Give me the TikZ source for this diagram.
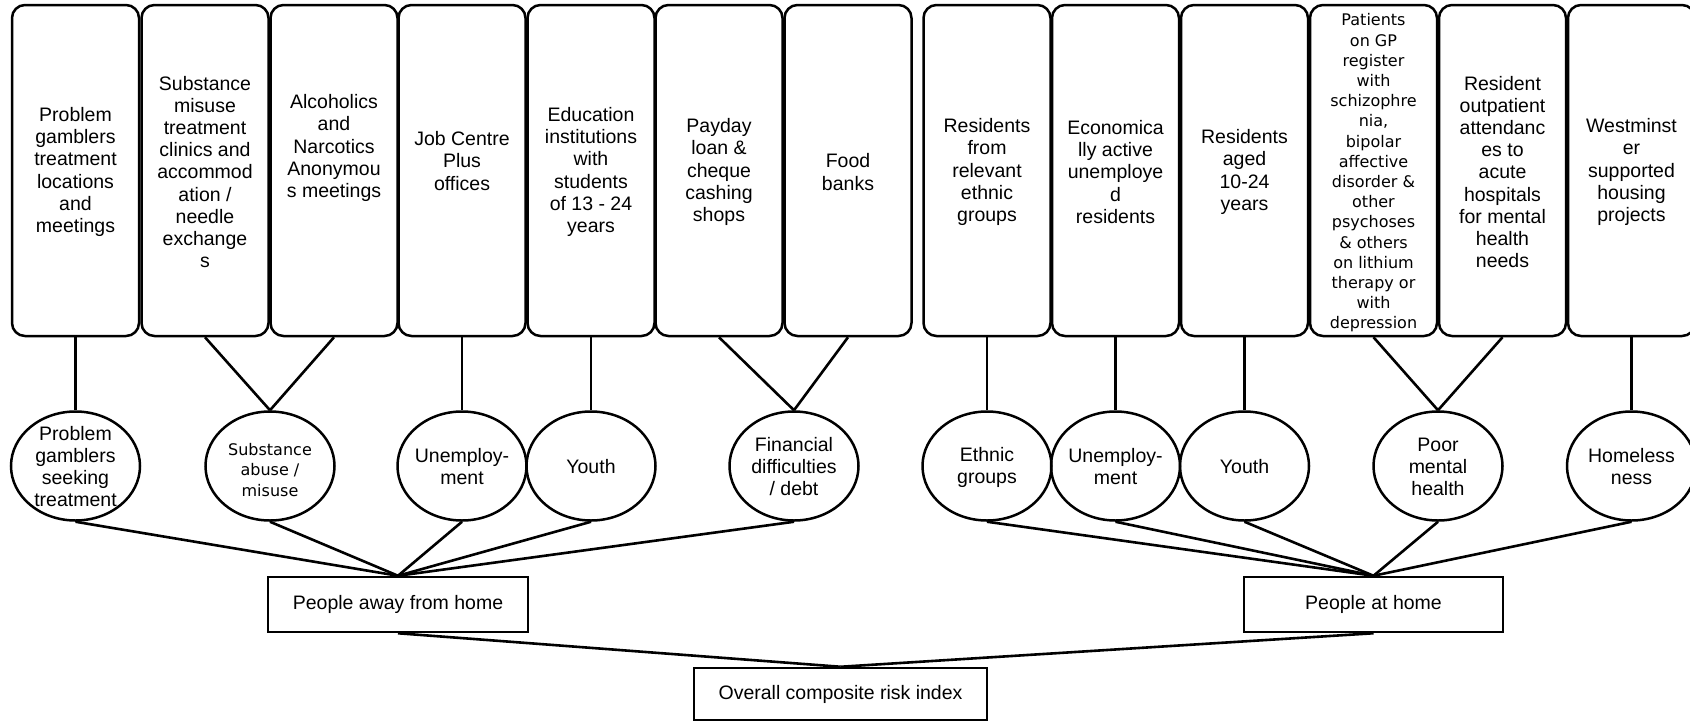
\documentclass[tikz,border=0pt]{standalone}
\usepackage{fontspec}
\setmainfont{Liberation Sans}
\newfontfamily\spacedfont{DejaVu Sans}
\usetikzlibrary{shapes.geometric}
\begin{document}
\begin{tikzpicture}[x=1pt,y=-1pt,
  topbox/.style={draw, line width=2.5pt, rounded corners=13pt, minimum width=127pt, minimum height=331pt, inner sep=0pt},
  toptext/.style={align=center, inner sep=0pt, font=\fontsize{19.5}{22.2}\selectfont},
  spacedtext/.style={align=center, inner sep=0pt, font=\spacedfont\fontsize{16}{20.2}\selectfont},
  ell/.style={draw, ellipse, line width=2.5pt, minimum width=129pt, minimum height=109pt, inner sep=0pt},
  etext/.style={align=center, inner sep=0pt, font=\fontsize{19.5}{22}\selectfont},
  rbox/.style={draw, line width=2.5pt, inner sep=0pt, font=\fontsize{19.5}{22}\selectfont},
  conn/.style={line width=2.6pt}
]
\clip (0,0) rectangle (1690,723);
\useasboundingbox (0,0) rectangle (1690,723);
\fill[white] (0,0) rectangle (1690,723);

% top boxes
\node[topbox] (t1) at (75.5,170.5) {};
\node[topbox] (t2) at (205,170.5) {};
\node[topbox] (t3) at (334,170.5) {};
\node[topbox] (t4) at (462,170.5) {};
\node[topbox] (t5) at (591,170.5) {};
\node[topbox] (t6) at (719,170.5) {};
\node[topbox] (t7) at (848,170.5) {};
\node[topbox] (t8) at (987,170.5) {};
\node[topbox] (t9) at (1115.5,170.5) {};
\node[topbox] (t10) at (1244.5,170.5) {};
\node[topbox] (t11) at (1373.5,170.5) {};
\node[topbox] (t12) at (1502.5,170.5) {};
\node[topbox] (t13) at (1631.5,170.5) {};

\node[toptext] (x1) at (75.5,172) {Problem\\gamblers\\treatment\\locations\\and\\meetings};
\node[toptext] (x2) at (205,172) {Substance\\misuse\\treatment\\clinics and\\accommod\\ation /\\needle\\exchange\\s};
\node[toptext] (x3) at (334,148) {Alcoholics\\and\\Narcotics\\Anonymou\\s meetings};
\node[toptext] (x4) at (462,161) {Job Centre\\Plus\\offices};
\node[toptext] (x5) at (591,172) {Education\\institutions\\with\\students\\of 13 - 24\\years};
\node[toptext] (x6) at (719,172) {Payday\\loan \&\\cheque\\cashing\\shops};
\node[toptext] (x7) at (848,172) {Food\\banks};
\node[toptext] (x8) at (987,172) {Residents\\from\\relevant\\ethnic\\groups};
\node[toptext] (x9) at (1115.5,172) {Economica\\lly active\\unemploye\\d\\residents};
\node[toptext] (x10) at (1244.5,172) {Residents\\aged\\10-24\\years};
\node[spacedtext] (x11) at (1373.5,173) {Patients\\on GP\\register\\with\\schizophre\\nia,\\bipolar\\affective\\disorder \&\\other\\psychoses\\\& others\\on lithium\\therapy or\\with\\depression};
\node[toptext] (x12) at (1502.5,172) {Resident\\outpatient\\attendanc\\es to\\acute\\hospitals\\for mental\\health\\needs};
\node[toptext] (x13) at (1631.5,172) {Westminst\\er\\supported\\housing\\projects};

% ellipses
\node[ell] (e1) at (75.5,466) {};
\node[ell] (e2) at (270,466) {};
\node[ell] (e3) at (462,466) {};
\node[ell] (e4) at (591,466) {};
\node[ell] (e5) at (794,466) {};
\node[ell] (e6) at (987,466) {};
\node[ell] (e7) at (1115.5,466) {};
\node[ell] (e8) at (1244.5,466) {};
\node[ell] (e9) at (1438,466) {};
\node[ell] (e10) at (1631.5,466) {};

\node[etext] (l1) at (75.5,467) {Problem\\gamblers\\seeking\\treatment};
\node[spacedtext, font=\spacedfont\fontsize{16}{20.5}\selectfont] (l2) at (270,470) {Substance\\abuse /\\misuse};
\node[etext] (l3) at (462,467) {Unemploy-\\ment};
\node[etext] (l4) at (591,467) {Youth};
\node[etext] (l5) at (794,467) {Financial\\difficulties\\/ debt};
\node[etext] (l6) at (987,467) {Ethnic\\groups};
\node[etext] (l7) at (1115.5,467) {Unemploy-\\ment};
\node[etext] (l8) at (1244.5,467) {Youth};
\node[etext] (l9) at (1438,467) {Poor\\mental\\health};
\node[etext] (l10) at (1631.5,467) {Homeless\\ness};

% bottom boxes
\node[rbox, minimum width=260pt, minimum height=55pt] (away) at (398,604.5) {People away from home};
\node[rbox, minimum width=259pt, minimum height=55pt] (home) at (1373.5,604.5) {People at home};
\node[rbox, minimum width=293pt, minimum height=52pt] (overall) at (840.5,694) {Overall composite risk index};

% connectors top -> ellipses
\draw[conn] (t1.south) -- (e1.north);
\draw[conn] (t2.south) -- (e2.north);
\draw[conn] (t3.south) -- (e2.north);
\draw[conn] (t4.south) -- (e3.north);
\draw[conn] (t5.south) -- (e4.north);
\draw[conn] (t6.south) -- (e5.north);
\draw[conn] (t7.south) -- (e5.north);
\draw[conn] (t8.south) -- (e6.north);
\draw[conn] (t9.south) -- (e7.north);
\draw[conn] (t10.south) -- (e8.north);
\draw[conn] (t11.south) -- (e9.north);
\draw[conn] (t12.south) -- (e9.north);
\draw[conn] (t13.south) -- (e10.north);

% ellipses -> group boxes
\foreach \e in {e1,e2,e3,e4,e5} \draw[conn] (\e.south) -- (away.north);
\foreach \e in {e6,e7,e8,e9,e10} \draw[conn] (\e.south) -- (home.north);

% group boxes -> overall
\draw[conn] (away.south) -- (overall.north);
\draw[conn] (home.south) -- (overall.north);
\end{tikzpicture}
\end{document}
